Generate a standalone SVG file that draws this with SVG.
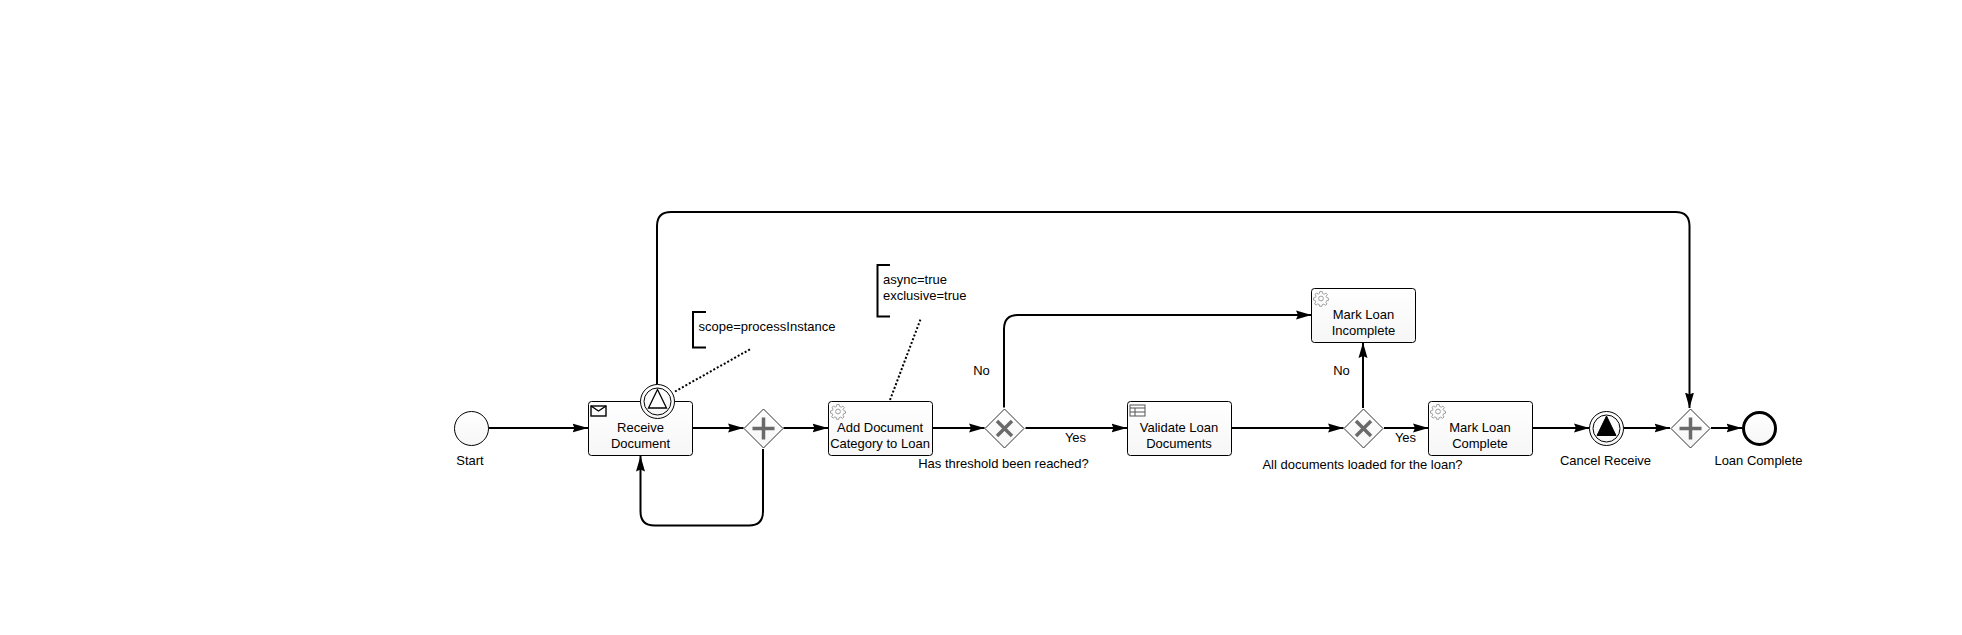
<svg xmlns="http://www.w3.org/2000/svg" width="1962" height="635" viewBox="0 0 1962 635">
<defs>
<linearGradient id="g" x1="0" y1="0" x2="0" y2="1"><stop offset="0" stop-color="#ffffff"/><stop offset="1" stop-color="#f6f6f6"/></linearGradient>
<marker id="arrow" markerUnits="userSpaceOnUse" markerWidth="16" markerHeight="12" refX="15.5" refY="6" orient="auto"><path d="M0,1.5 L15.5,6 L0,10.5 L2,6 Z" fill="#000"/></marker>
<g id="gear" fill="none" stroke="#a0a0a0" stroke-width="1"><circle cx="8" cy="8" r="2.4"/><path d="M6.8,1 L9.2,1 L9.6,3 L11.2,3.7 L13,2.6 L14.4,4.2 L13,5.8 L13.8,7.2 L15.5,7.8 L15.5,9.8 L13.6,10.2 L13,11.8 L14,13.5 L12.4,14.8 L10.8,13.6 L9.2,14.2 L8.8,15.8 L6.6,15.8 L6.2,14 L4.8,13.4 L3.2,14.6 L1.6,13.2 L2.8,11.4 L2.2,10 L0.5,9.6 L0.5,7.4 L2.4,7 L3,5.6 L2,3.8 L3.6,2.6 L5.2,3.6 L6.4,3 Z"/></g>
</defs>
<style>
.t{font-family:"Liberation Sans",Arial,sans-serif;font-size:13px;fill:#000;text-anchor:middle}
.a{text-anchor:start}
.task{fill:url(#g);stroke:#000;stroke-width:1}
.ev{fill:url(#g);stroke:#000;stroke-width:1}
.gw{fill:url(#g);stroke:#333;stroke-width:1}
.mk{stroke:#6a6a6a;stroke-width:3.5;fill:none}
.c{fill:none;stroke:#000;stroke-width:2;marker-end:url(#arrow)}
.d{fill:none;stroke:#000;stroke-width:2;stroke-dasharray:2 2}
.b{fill:none;stroke:#000;stroke-width:2}
</style>
<rect width="1962" height="635" fill="#fff"/>
<g id="connectors">
<path class="c" d="M488.5,428 H588"/>
<path class="c" d="M692.5,428 H743.5"/>
<path class="c" d="M783.5,428 H828"/>
<path class="c" d="M763,449 V511.5 Q763,525.5 749,525.5 H654.5 Q640.5,525.5 640.5,511.5 V456"/>
<path class="c" d="M657,384.5 V226 Q657,212 671,212 H1675.5 Q1689.5,212 1689.5,226 V408"/>
<path class="c" d="M932.5,428 H984.5"/>
<path class="c" d="M1025.5,428 H1127"/>
<path class="c" d="M1004,407.5 V329 Q1004,315 1018,315 H1311.5"/>
<path class="c" d="M1231.5,428 H1343.5"/>
<path class="c" d="M1363,408 V342.5"/>
<path class="c" d="M1384,428 H1428.5"/>
<path class="c" d="M1532.5,428 H1589.5"/>
<path class="c" d="M1623.5,428 H1670"/>
<path class="c" d="M1711,428 H1742"/>
<path class="d" d="M675,391.5 L750.5,349"/>
<path class="d" d="M890,400 L921,318"/>
</g>
<g id="start"><circle class="ev" cx="471.5" cy="428.5" r="17"/><text class="t" x="470" y="465">Start</text></g>
<g id="receive"><rect class="task" x="588.5" y="401.5" width="104" height="54" rx="3"/>
<g fill="none" stroke="#000" stroke-width="1.4"><rect x="591" y="406" width="15" height="10"/><path d="M591,406 L598.5,411 L606,406"/></g>
<text class="t" x="640.5" y="432">Receive</text><text class="t" x="640.5" y="448">Document</text></g>
<g id="boundary"><circle class="ev" cx="657.5" cy="401.5" r="17"/><circle fill="none" stroke="#000" cx="657.5" cy="401.5" r="13.5"/><path d="M657.5,389.5 L666.5,408 H648.5 Z" fill="#fff" stroke="#000" stroke-width="1.3"/></g>
<g id="gw1"><path class="gw" d="M763.5,409 L783,428.5 L763.5,448 L744,428.5 Z"/><path class="mk" d="M763.5,417.5 V439.5 M752.5,428.5 H774.5"/></g>
<g id="addDoc"><rect class="task" x="828.5" y="401.5" width="104" height="54" rx="3"/><use href="#gear" x="830" y="403.5"/>
<text class="t" x="880" y="432">Add Document</text><text class="t" x="880" y="448">Category to Loan</text></g>
<g id="gw2"><path class="gw" d="M1004.5,409 L1024,428.5 L1004.5,448 L985,428.5 Z"/><path class="mk" d="M997,421 L1012,436 M1012,421 L997,436"/></g>
<g id="validate"><rect class="task" x="1127.5" y="401.5" width="104" height="54" rx="3"/>
<g fill="none" stroke="#555" stroke-width="1"><rect x="1130" y="405" width="15" height="11"/><path d="M1130,408 H1145 M1130,412 H1145 M1135,408 V416"/></g>
<text class="t" x="1179" y="432">Validate Loan</text><text class="t" x="1179" y="448">Documents</text></g>
<g id="gw3"><path class="gw" d="M1363.5,409 L1383,428.5 L1363.5,448 L1344,428.5 Z"/><path class="mk" d="M1356,421 L1371,436 M1371,421 L1356,436"/></g>
<g id="incomplete"><rect class="task" x="1311.5" y="288.5" width="104" height="54" rx="3"/><use href="#gear" x="1313" y="290.5"/>
<text class="t" x="1363.5" y="319">Mark Loan</text><text class="t" x="1363.5" y="335">Incomplete</text></g>
<g id="complete"><rect class="task" x="1428.5" y="401.5" width="104" height="54" rx="3"/><use href="#gear" x="1430" y="403.5"/>
<text class="t" x="1480" y="432">Mark Loan</text><text class="t" x="1480" y="448">Complete</text></g>
<g id="cancel"><circle class="ev" cx="1606.5" cy="428.5" r="17"/><circle fill="none" stroke="#000" cx="1606.5" cy="428.5" r="13.5"/><path d="M1606.5,416 L1616,435.5 H1597 Z" fill="#000" stroke="#000"/><text class="t" x="1605.5" y="465">Cancel Receive</text></g>
<g id="gw4"><path class="gw" d="M1690.5,409 L1710,428.5 L1690.5,448 L1671,428.5 Z"/><path class="mk" d="M1690.5,417.5 V439.5 M1679.5,428.5 H1701.5"/></g>
<g id="end"><circle class="ev" style="stroke-width:3" cx="1759.5" cy="428.5" r="16"/><text class="t" x="1758.5" y="465">Loan Complete</text></g>
<g id="note1"><path class="b" d="M706,312 H693 V347.5 H706"/><text class="t a" x="698.5" y="331">scope=processInstance</text></g>
<g id="note2"><path class="b" d="M890,265 H877.5 V316.5 H890"/><text class="t a" x="883" y="284">async=true</text><text class="t a" x="883" y="300">exclusive=true</text></g>
<g id="labels">
<text class="t" x="1003.5" y="468">Has threshold been reached?</text>
<text class="t" x="981.5" y="375">No</text>
<text class="t" x="1075.5" y="442">Yes</text>
<text class="t" x="1341.5" y="375">No</text>
<text class="t" x="1405.5" y="442">Yes</text>
<text class="t" x="1362.5" y="469">All documents loaded for the loan?</text>
</g>
</svg>
